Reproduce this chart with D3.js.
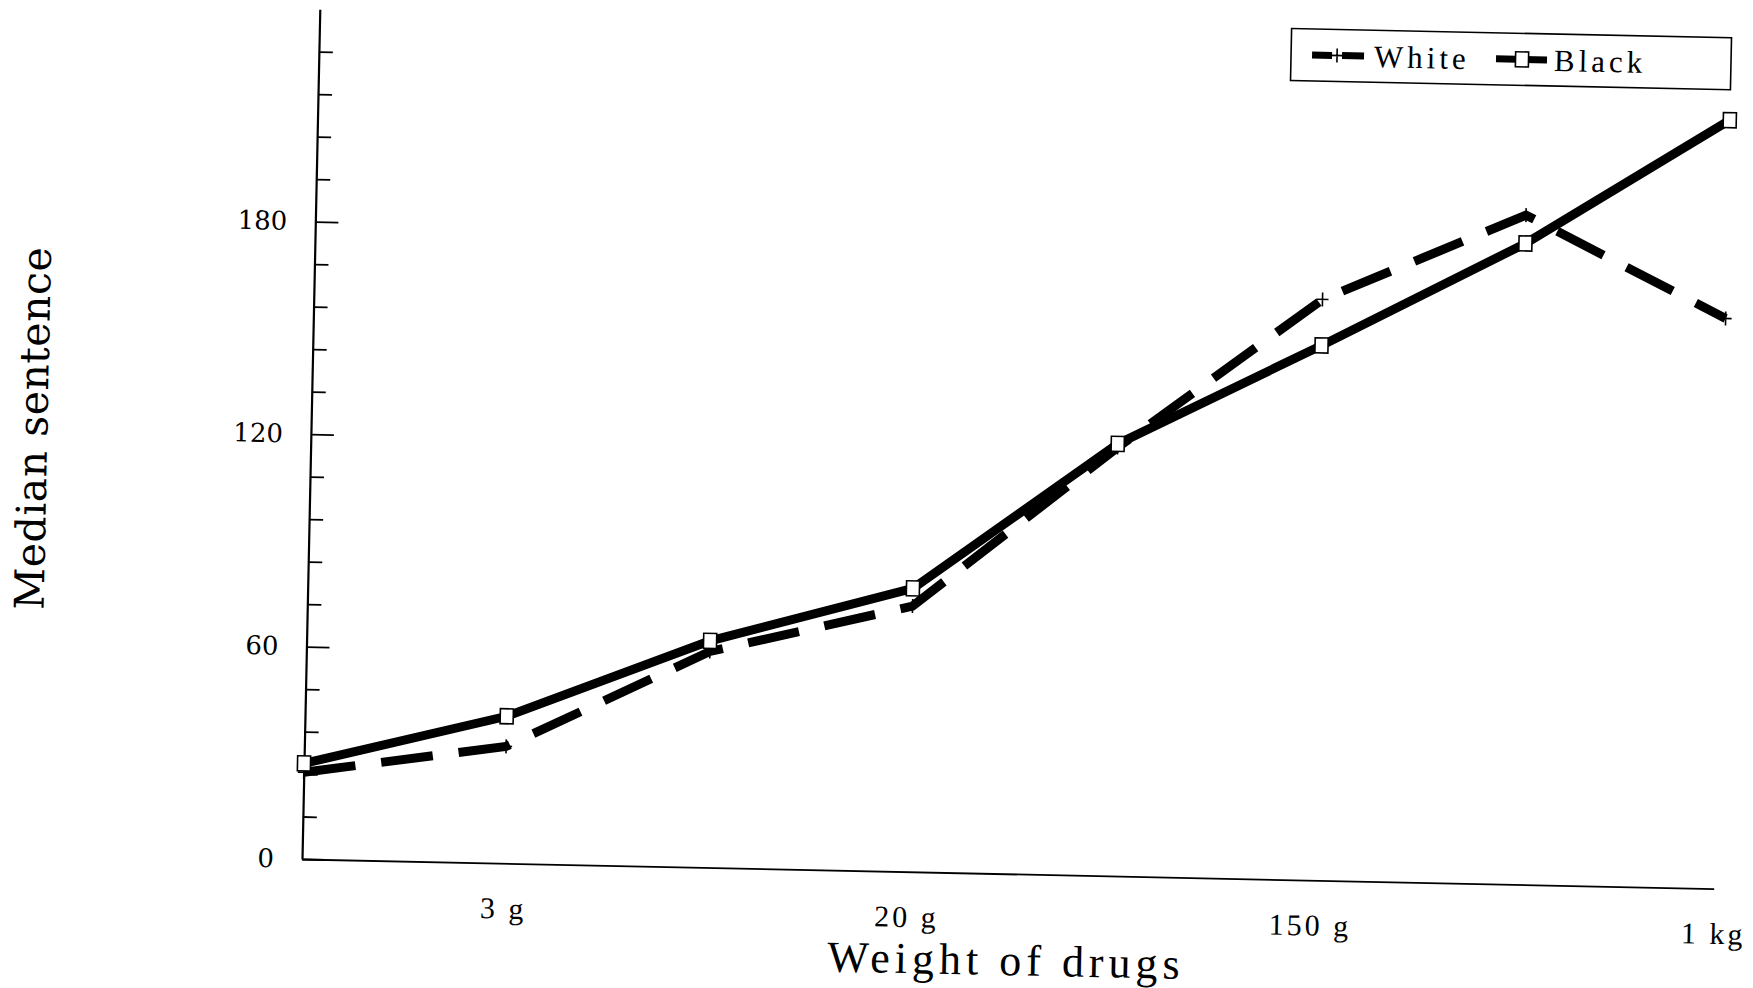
<!DOCTYPE html>
<html lang="en">
<head>
<meta charset="UTF-8">
<title>Median sentence by weight of drugs</title>
<script src="https://d3js.org/d3.v7.min.js"></script>
<style>
  body { margin: 0; background: #fff; }
  svg { display: block; }
</style>
</head>
<body>
<div id="chart"></div>
<script>
// data
var weights = ["", "3 g", "", "20 g", "", "150 g", "", "1 kg"];
var whiteSentence = [24.5, 33, 61, 75, 121, 164, 189, 161];
var blackSentence = [27, 41.5, 64, 80, 122, 151, 181, 217];
var seriesNames = ["White", "Black"];
var yLabelTicks = [0, 60, 120, 180];
var yMinorTicks = [12, 24, 36, 48, 72, 84, 96, 108, 132, 144, 156, 168, 192, 204, 216, 228];

var WIDTH = 1753, HEIGHT = 988,
  ORIGIN = {x: 302, y: 859},   // where the axes meet on the page
  PLOT_W = 1412, PLOT_H = 850,
  TILT = 1.2;                  // the scan is turned a little clockwise

var svg = d3.select('#chart').append('svg')
  .attr('width', WIDTH)
  .attr('height', HEIGHT)
  .style('background', '#fff');

var plot = svg.append('g')
  .attr('transform', 'rotate(' + TILT + ',' + ORIGIN.x + ',' + ORIGIN.y + ') translate(' +
    ORIGIN.x + ',' + (ORIGIN.y - PLOT_H) + ')');

var x = d3.scalePoint()
  .domain(d3.range(weights.length))
  .range([0, PLOT_W]);
var y = d3.scaleLinear()
  .domain([0, 240])
  .range([PLOT_H, 0]);

// y axis: short inner ticks every 12, longer labelled ones every 60
var minorAxis = plot.append('g')
  .call(d3.axisLeft(y).tickValues(yMinorTicks).tickSize(-14).tickSizeOuter(0).tickFormat(''));
minorAxis.select('.domain').remove();
minorAxis.selectAll('line').attr('stroke', '#000').attr('stroke-width', 1.8);

var yAxis = plot.append('g')
  .call(d3.axisLeft(y).tickValues(yLabelTicks).tickSize(-23).tickSizeOuter(0).tickPadding(28));
yAxis.select('.domain').attr('stroke', '#000').attr('stroke-width', 2.2);
yAxis.selectAll('line').attr('stroke', '#000').attr('stroke-width', 1.8);
yAxis.selectAll('text')
  .attr('font-family', 'DejaVu Serif')
  .attr('font-size', 26)
  .attr('fill', '#000');

// x axis: plain line, only every other weight is labelled
var xAxis = plot.append('g')
  .attr('transform', 'translate(0,' + PLOT_H + ')')
  .call(d3.axisBottom(x).tickSize(0).tickSizeOuter(0).tickPadding(34)
    .tickFormat(function (i) { return weights[i]; }));
xAxis.select('.domain').attr('stroke', '#000').attr('stroke-width', 1.8);
xAxis.selectAll('text')
  .attr('font-family', 'Liberation Serif')
  .attr('font-size', 30)
  .attr('letter-spacing', 3)
  .attr('fill', '#000');

// axis titles
plot.append('text')
  .attr('x', PLOT_W / 2)
  .attr('y', PLOT_H + 86)
  .attr('dy', '0.35em')
  .attr('text-anchor', 'middle')
  .attr('font-family', 'Liberation Serif')
  .attr('font-size', 44)
  .attr('letter-spacing', 5)
  .text('Weight of drugs');

plot.append('text')
  .attr('transform', 'translate(-278,' + (PLOT_H / 2) + ') rotate(-90)')
  .attr('dy', '0.35em')
  .attr('text-anchor', 'middle')
  .attr('font-family', 'DejaVu Serif')
  .attr('font-size', 41)
  .attr('letter-spacing', 0.5)
  .text('Median sentence');

// lines
var line = d3.line()
  .x(function (d, i) { return x(i); })
  .y(function (d) { return y(d); });

plot.append('path')
  .datum(whiteSentence)
  .attr('d', line)
  .attr('fill', 'none')
  .attr('stroke', '#000')
  .attr('stroke-width', 9)
  .attr('stroke-dasharray', '52,26');

plot.append('path')
  .datum(blackSentence)
  .attr('d', line)
  .attr('fill', 'none')
  .attr('stroke', '#000')
  .attr('stroke-width', 9)
  .attr('stroke-linejoin', 'miter');

// markers
function plus(sel) {
  sel.append('path')
    .attr('d', 'M-6,0H6M0,-7V7')
    .attr('stroke', '#000')
    .attr('stroke-width', 1.6)
    .attr('fill', 'none');
}
function square(sel) {
  sel.append('rect')
    .attr('x', -6.5).attr('y', -7.5)
    .attr('width', 13).attr('height', 15)
    .attr('fill', '#fff')
    .attr('stroke', '#000')
    .attr('stroke-width', 1.6);
}

plot.selectAll('.white-pt')
  .data(whiteSentence)
  .enter().append('g')
  .attr('class', 'white-pt')
  .attr('transform', function (d, i) { return 'translate(' + x(i) + ',' + y(d) + ')'; })
  .call(plus);

plot.selectAll('.black-pt')
  .data(blackSentence)
  .enter().append('g')
  .attr('class', 'black-pt')
  .attr('transform', function (d, i) { return 'translate(' + x(i) + ',' + y(d) + ')'; })
  .call(square);

// legend box, top right
var legend = plot.append('g')
  .attr('transform', 'translate(' + (PLOT_W - 440) + ',-1)');
legend.append('rect')
  .attr('width', 440)
  .attr('height', 52)
  .attr('fill', '#fff')
  .attr('stroke', '#000')
  .attr('stroke-width', 1.6);

// White sample: dash, plus, dash
legend.append('path')
  .attr('d', 'M21,26H41M51,26H73')
  .attr('stroke', '#000')
  .attr('stroke-width', 7);
legend.append('g').attr('transform', 'translate(46,26)').call(plus);
legend.append('text')
  .attr('x', 83).attr('y', 26).attr('dy', '0.35em')
  .attr('font-family', 'Liberation Serif')
  .attr('font-size', 31)
  .attr('letter-spacing', 4)
  .text(seriesNames[0]);

// Black sample: solid with square
legend.append('path')
  .attr('d', 'M205,26H256')
  .attr('stroke', '#000')
  .attr('stroke-width', 7);
legend.append('g').attr('transform', 'translate(231,26)').call(square);
legend.append('text')
  .attr('x', 263).attr('y', 26).attr('dy', '0.35em')
  .attr('font-family', 'Liberation Serif')
  .attr('font-size', 31)
  .attr('letter-spacing', 4)
  .text(seriesNames[1]);
</script>
</body>
</html>
